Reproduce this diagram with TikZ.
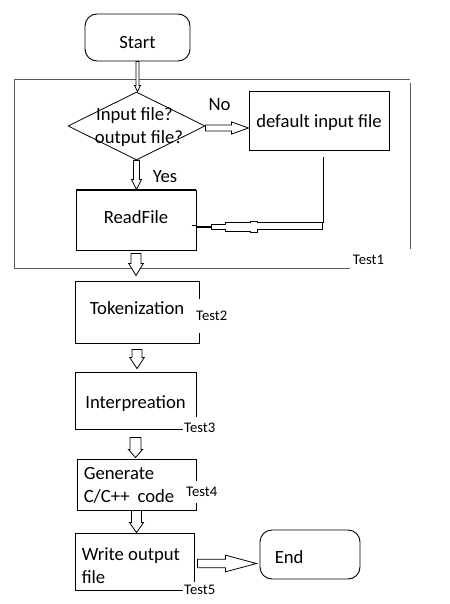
\documentclass[tikz,border=0pt]{standalone}
\usepackage{fontspec}
\setmainfont{Carlito}
\usetikzlibrary{shapes.geometric,calc}
\tikzset{
 box/.style={draw,line width=0.9pt,inner sep=0pt},
 term/.style={box,rounded corners=12pt},
 main/.style={font=\fontsize{18.67}{23.5}\selectfont},
 txt/.style={main,align=left,inner sep=0pt,anchor=west},
 tag/.style={font=\fontsize{14.67}{16}\selectfont,fill=white,inner sep=1pt},
 blk/.style={draw,line width=0.8pt,fill=white,line join=miter},
 frame/.style={draw=black!65,line width=1pt},
}
\newcommand\downblk[5]{\draw[blk] let \p1=(#1), \p2=(#2) in (\x1-#3pt,\y1) -- (\x1-#3pt,\y2+#5pt) -- (\x1-#4pt,\y2+#5pt) -- (\x1,\y2) -- (\x1+#4pt,\y2+#5pt) -- (\x1+#3pt,\y2+#5pt) -- (\x1+#3pt,\y1) -- cycle;}
\newcommand\rightblk[5]{\draw[blk] let \p1=(#1), \p2=(#2) in (\x1,\y1-#3pt) -- (\x2-#5pt,\y1-#3pt) -- (\x2-#5pt,\y1-#4pt) -- (\x2,\y1) -- (\x2-#5pt,\y1+#4pt) -- (\x2-#5pt,\y1+#3pt) -- (\x1,\y1+#3pt) -- cycle;}
\begin{document}
\begin{tikzpicture}[x=1pt,y=-1pt]
\useasboundingbox[fill=white] (0,0) rectangle (449,604);
% container frame
\draw[frame] (14,268) -- (14,80) -- (410,80);
\draw[frame] (410,83) -- (410,249);
\draw[frame] (14,268) -- (350,268);
\node[tag,fill=none] (t1) at (368.5,260) {Test1};
% nodes
\node[term,minimum width=105pt,minimum height=47pt,main,text height=23pt,text depth=0pt] (start) at (137.5,37.5) {Start};
\node[draw,diamond,minimum width=137pt,minimum height=68pt,inner sep=0pt,line width=0.8pt] (dec) at (136.5,126) {};
\node[main,align=center,inner sep=0pt] (dectext) at (137,127) {\hspace*{-5pt}Input file?\\ \hspace*{4pt}output file?};
\node[box,minimum width=140pt,minimum height=59pt,main,text height=15pt,text depth=0pt] (def) at (319,120.5) {default input file};
\node[box,minimum width=120pt,minimum height=60pt,main,text height=13pt,text depth=7pt] (read) at (136,220) {ReadFile};
\draw[line width=2pt] (read.north west) -- (read.north east);
\node[main,inner sep=0pt] (no) at (219.5,105) {No};
\node[main,inner sep=0pt] (yes) at (165,177) {Yes};
\node[box,minimum width=124pt,minimum height=62pt,main,text height=13pt,text depth=8pt] (tok) at (137,312) {Tokenization};
\node[tag,anchor=west,minimum height=34pt] (t2) at (195,316) {Test2};
\node[box,minimum width=121pt,minimum height=57pt,main,text height=15pt,text depth=0pt] (int) at (135.5,400.5) {Interpreation};
\node[tag,anchor=west,minimum height=22pt] (t3) at (183,428) {Test3};
\node[box,minimum width=119pt,minimum height=51pt] (gen) at (136.5,484.5) {};
\node[txt] (gentext) at ([xshift=7pt,yshift=-1pt]gen.west) {Generate\\ C/C++\hspace{8pt}code};
\node[tag,anchor=west,minimum height=22pt] (t4) at (185,492) {Test4};
\node[box,minimum width=119pt,minimum height=57pt] (wr) at (134.5,561.5) {};
\node[txt] (wrtext) at ([xshift=7pt,yshift=-4pt]wr.west) {Write output\\ file};
\node[tag,anchor=west,minimum height=16pt] (t5) at (183,590) {Test5};
\node[term,minimum width=100pt,minimum height=49pt] (end) at (310,554.5) {};
\node[main,inner sep=0pt,anchor=west] (endtext) at ([xshift=15pt,yshift=-3pt]end.west) {End};
% arrows
\downblk{start.south}{dec.north}{1.5}{3}{6}
\rightblk{[yshift=-2pt]dec.east}{[yshift=-7.5pt]def.west}{3}{6}{17}
\downblk{dec.south}{read.north}{3}{5}{10}
\downblk{[yshift=-3pt]read.south}{[yshift=5pt]tok.north}{5}{7.3}{12}
\downblk{[yshift=-6pt]tok.south}{[yshift=3pt]int.north}{5}{7.3}{11}
\downblk{[yshift=-8pt]int.south}{[yshift=1pt]gen.north}{5.5}{7}{8}
\downblk{gen.south}{wr.north}{5}{7}{10}
\rightblk{[shift={(3pt,-2pt)}]wr.east}{[xshift=-3pt]end.west}{4.2}{8.3}{31}
% return from default input file
\coordinate (r1) at (323,157);
\coordinate (r2) at (323,222.7);
\draw[line width=0.9pt] (r1) -- (r2);
\draw[blk] (322.7,222.7) -- (257,222.7) -- (257,221) -- (250,221) -- (250,222.3) -- (225,222.3) -- (225,224) -- (211,224) -- (211,229.3) -- (225,229.3) -- (225,231) -- (250,231) -- (250,232.3) -- (257,232.3) -- (257,229.3) -- (322.7,229.3) -- cycle;
\draw[line width=2pt] (211,226.7) -- (read.east|-0,226.7);
\draw[line width=0.6pt] (191.5,225.7) -- (read.east|-0,225.7);
\end{tikzpicture}
\end{document}
